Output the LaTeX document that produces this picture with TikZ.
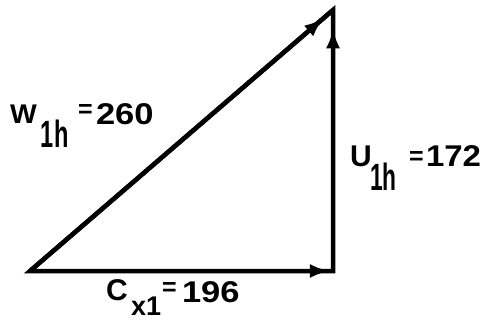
\documentclass[tikz,border=0pt]{standalone}
\usepackage{fontspec}
\usepackage{graphicx}
\setmainfont{Liberation Sans}
\usetikzlibrary{arrows.meta,decorations.markings}
\newcommand{\wide}[2]{\scalebox{#1}[1]{#2}}
\begin{document}
\begin{tikzpicture}[x=1pt,y=-1pt,
  vec/.style={line width=4.5pt,line join=miter,black},
  tipat/.style={postaction={decorate},decoration={markings,mark=at position #1 with {\arrow{Latex[length=20pt,width=14pt]}}}},
  lbl/.style={anchor=base west,inner sep=0pt,outer sep=0pt},
  main/.style={font=\fontsize{30}{34}\selectfont\bfseries},
  sub/.style={font=\fontsize{38}{40}\selectfont\bfseries},
  subc/.style={font=\fontsize{27}{30}\selectfont\bfseries},
  eqs/.style={font=\fontsize{25}{27}\selectfont\bfseries}]
\useasboundingbox (0,0) rectangle (491,321);
\coordinate (A) at (30,271);
\coordinate (B) at (333,271);
\coordinate (C) at (333,10);
\draw[vec] (A) -- (B) -- (C) -- cycle;
\draw[vec,tipat=0.99] (A) -- (B);
\draw[vec,tipat=0.93] (B) -- (C);
\draw[vec,tipat=0.97] (A) -- (C);
% W label
\node[lbl,font=\fontsize{27}{30}\selectfont\bfseries] (w) at (10,124) {\wide{1.05}{W}};
\node[lbl,sub] (wsub) at (41,148) {\wide{0.62}{1h}};
\node[lbl,eqs] (weq) at (78,118) {=};
\node[lbl,main] (wval) at (96,125) {\wide{1.15}{260}};
% U label
\node[lbl,main] (u) at (350,167) {U};
\node[lbl,sub] (usub) at (370,190) {\wide{0.6}{1h}};
\node[lbl,eqs] (ueq) at (409,165) {=};
\node[lbl,main] (uval) at (426,167) {\wide{1.1}{172}};
% C label
\node[lbl,main] (c) at (106,300) {C};
\node[lbl,subc] (cx) at (131,315) {x1};
\node[lbl,eqs] (ceq) at (162,295) {=};
\node[lbl,main] (cval) at (182,302) {\wide{1.15}{196}};
\end{tikzpicture}
\end{document}
